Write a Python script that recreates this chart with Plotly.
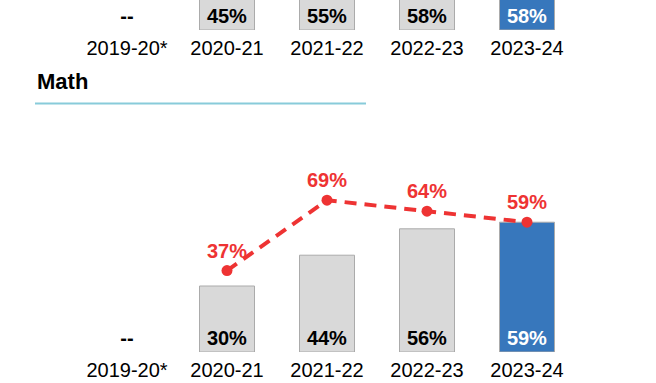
import plotly.graph_objects as go

# ---- data ----
categories = ["2019-20*", "2020-21", "2021-22", "2022-23", "2023-24"]
prev_panel_values = [0, 45, 55, 58, 58]          # panel above (cut off)
math_bar_values = [0, 30, 44, 56, 59]            # bars
math_line_values = [None, 37, 69, 64, 59]        # red dashed line
missing_label = "--"

W, H = 656, 383
GRAY = "#D9D9D9"
GRAY_LINE = "#ABABAB"
BLUE = "#3777BC"
RED = "#EE3333"
FONT = "Liberation Sans, Arial, sans-serif"


def bar_style(vals):
    n = len(vals)
    colors = [GRAY] * (n - 1) + [BLUE]
    lw = [0 if v == 0 else 1 for v in vals]
    text = [missing_label if v == 0 else f"{v}%" for v in vals]
    tpos = ["outside" if v == 0 else "inside" for v in vals]
    tcol = ["black"] * (n - 1) + ["white"]
    tcol = [("black" if v == 0 else c) for v, c in zip(vals, tcol)]
    return colors, lw, text, tpos, tcol


fig = go.Figure()

# top (previous) panel
c, lw, t, tp, tc = bar_style(prev_panel_values)
fig.add_trace(go.Bar(
    x=categories, y=prev_panel_values, xaxis="x2", yaxis="y2",
    width=0.55, marker=dict(color=c, line=dict(color=GRAY_LINE, width=lw)),
    text=t, textposition=tp, insidetextanchor="start",
    textfont=dict(family=FONT, size=20, color=tc, weight="bold"),
    outsidetextfont=dict(family=FONT, size=20, color="black", weight="bold"),
    cliponaxis=True, showlegend=False, hoverinfo="skip",
))

# math bars
c, lw, t, tp, tc = bar_style(math_bar_values)
fig.add_trace(go.Bar(
    x=categories, y=math_bar_values, xaxis="x", yaxis="y",
    width=0.55, marker=dict(color=c, line=dict(color=GRAY_LINE, width=lw)),
    text=t, textposition=tp, insidetextanchor="start",
    textfont=dict(family=FONT, size=20, color=tc, weight="bold"),
    outsidetextfont=dict(family=FONT, size=20, color="black", weight="bold"),
    showlegend=False, hoverinfo="skip",
))

# math line
fig.add_trace(go.Scatter(
    x=categories, y=math_line_values, xaxis="x", yaxis="y",
    mode="lines+markers+text",
    line=dict(color=RED, width=4, dash="12px,8px"),
    marker=dict(color=RED, size=11),
    text=[None if v is None else f"{v}%" for v in math_line_values],
    textposition="top center",
    textfont=dict(family=FONT, size=20, color=RED, weight="bold"),
    cliponaxis=False, showlegend=False, hoverinfo="skip",
))

xdom = [77 / W, 577 / W]
axis_common = dict(
    type="category", range=[-0.5, 4.5], domain=xdom,
    showgrid=False, zeroline=False, showline=False, ticks="",
    ticklabelstandoff=4,
    tickfont=dict(family=FONT, size=20, color="black"),
)

px_per_pct = 2.2
base_bottom = 352
base_top = 30

fig.update_layout(
    width=W, height=H,
    margin=dict(l=0, r=0, t=0, b=0),
    paper_bgcolor="white", plot_bgcolor="white",
    font=dict(family=FONT, color="black"),
    barmode="overlay",
    hovermode=False,
    xaxis=dict(anchor="y", **axis_common),
    yaxis=dict(domain=[(H - base_bottom) / H, (H - base_bottom + 100 * px_per_pct) / H],
               range=[0, 100], visible=False),
    xaxis2=dict(anchor="y2", **axis_common),
    yaxis2=dict(domain=[(H - base_top) / H, 1.0],
                range=[0, base_top / px_per_pct], visible=False),
    annotations=[dict(
        text="<b>Math</b>", x=35 / W, y=(H - 82) / H, xref="paper", yref="paper",
        xanchor="left", yanchor="middle", showarrow=False,
        font=dict(family=FONT, size=22, color="black"),
    )],
    shapes=[dict(
        type="line", xref="paper", yref="paper",
        x0=35 / W, x1=366 / W, y0=(H - 103.5) / H, y1=(H - 103.5) / H,
        line=dict(color="#88CBDA", width=2),
    )],
)

fig.write_html(
    "out.html",
    config={"displayModeBar": False, "staticPlot": True},
    post_script="document.body.style.margin='0';document.body.style.overflow='hidden';",
)
